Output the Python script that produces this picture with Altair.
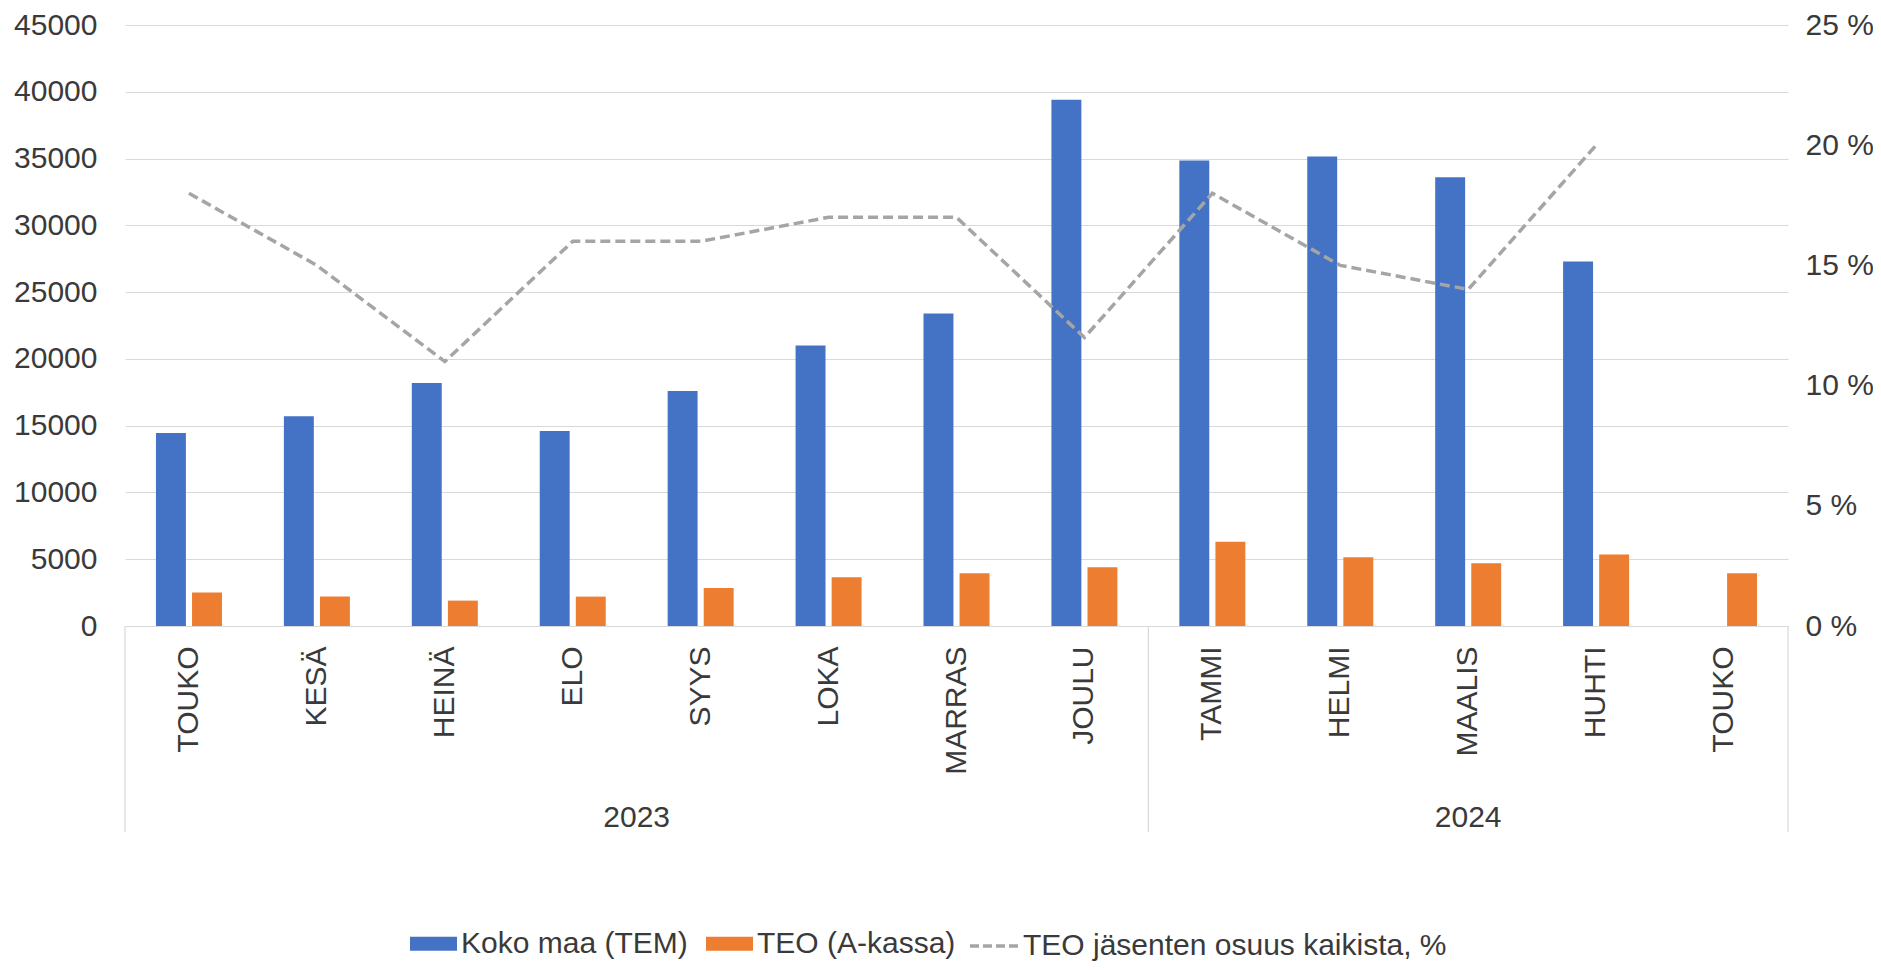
import altair as alt
import pandas as pd

# ---- data ----
months = ["TOUKO", "KESÄ", "HEINÄ", "ELO", "SYYS", "LOKA", "MARRAS", "JOULU",
          "TAMMI", "HELMI", "MAALIS", "HUHTI", "TOUKO"]
month_year = [2023, 2023, 2023, 2023, 2023, 2023, 2023, 2023,
              2024, 2024, 2024, 2024, 2024]
koko_maa = [14450, 15700, 18200, 14600, 17600, 21000, 23400, 39400,
            34850, 35150, 33600, 27300, None]
teo_akassa = [2500, 2200, 1900, 2200, 2850, 3650, 3950, 4400,
              6300, 5150, 4700, 5350, 3950]
teo_share = [18, 15, 11, 16, 16, 17, 17, 12, 18, 15, 14, 20, None]

series_names = ["Koko maa (TEM)", "TEO (A-kassa)"]
series_colors = ["#4472C4", "#ED7D31"]
line_name = "TEO jäsenten osuus kaikista, %"
line_color = "#A5A5A5"

years = ["2023", "2024"]
year_start = [0, 8]
year_count = [8, 5]
year_bounds = [0, 8, 13]

left_ticks = [0, 5000, 10000, 15000, 20000, 25000, 30000, 35000, 40000, 45000]
right_ticks = [0, 5, 10, 15, 20, 25]

# ---- tables ----
keys = [f"{i:02d} {m}" for i, m in enumerate(months)]
bars_df = pd.DataFrame(
    [{"key": k, "series": series_names[0], "value": v} for k, v in zip(keys, koko_maa)]
    + [{"key": k, "series": series_names[1], "value": v} for k, v in zip(keys, teo_akassa)]
)
line_df = pd.DataFrame({"key": keys, "share": teo_share, "name": line_name})
year_df = pd.DataFrame({"year": years, "start": year_start, "count": year_count})
bound_df = pd.DataFrame({"b": year_bounds})

W, H = 1663, 601
TOP = 17
FONT = "Liberation Sans"
TXT = "#3a3a3a"
FS = 30
n = len(keys)
LEG_Y = 895

x_band = alt.Scale(domain=keys, paddingInner=0.484, paddingOuter=0.242)

bars = alt.Chart(bars_df).mark_bar().encode(
    x=alt.X("key:N", scale=x_band, sort=None,
            axis=alt.Axis(title=None, labelAngle=270, labelExpr="substring(datum.value, 3)",
                          ticks=False, grid=False, domain=True, domainColor="#d9d9d9",
                          labelPadding=20, labelFontSize=FS)),
    xOffset=alt.XOffset("series:N", sort=series_names,
                        scale=alt.Scale(domain=series_names, paddingInner=0.17, paddingOuter=0)),
    y=alt.Y("value:Q", scale=alt.Scale(domain=[0, 45000], nice=False),
            axis=alt.Axis(title=None, values=left_ticks, format="d", orient="left",
                          ticks=False, domain=False, grid=True, gridColor="#d9d9d9",
                          labelPadding=28, labelFontSize=FS,
                          labelFlush=False, labelOverlap=False)),
    color=alt.Color("series:N", scale=alt.Scale(domain=series_names, range=series_colors),
                    legend=alt.Legend(title=None, orient="none", direction="horizontal",
                                      legendX=285, legendY=LEG_Y, padding=0,
                                      symbolType="M-1,-0.3H1V0.3H-1Z", symbolSize=2209,
                                      symbolStrokeWidth=0, labelOffset=4, columnPadding=18,
                                      labelFontSize=FS, labelFont=FONT, labelColor=TXT,
                                      labelLimit=600)),
)

line = alt.Chart(line_df).mark_line(strokeDash=[10, 5], strokeWidth=3.5).encode(
    x=alt.X("key:N", sort=None, scale=alt.Scale(domain=keys, type="point", padding=0.5), axis=None),
    y=alt.Y("share:Q", scale=alt.Scale(domain=[0, 25], nice=False),
            axis=alt.Axis(title=None, values=right_ticks, orient="right", ticks=False, domain=False,
                          grid=False, labelPadding=17, labelFontSize=FS,
                          labelExpr="datum.value + ' %'", labelFlush=False, labelOverlap=False)),
    color=alt.Color("name:N", scale=alt.Scale(domain=[line_name], range=[line_color]),
                    legend=alt.Legend(title=None, orient="none", direction="horizontal",
                                      legendX=843, legendY=LEG_Y, padding=0,
                                      symbolType="stroke", symbolSize=2304, symbolStrokeWidth=3.5,
                                      symbolDash=[9, 4], labelOffset=3,
                                      labelFontSize=FS, labelFont=FONT, labelColor=TXT,
                                      labelLimit=800)),
)

rules = alt.Chart(bound_df).mark_rule(color="#d9d9d9", strokeWidth=1.2).encode(
    x=alt.X("b:Q", scale=alt.Scale(domain=[0, n], nice=False, zero=False), axis=None),
    y=alt.value(H),
    y2=alt.value(H + 206),
)

year_text = alt.Chart(year_df).transform_calculate(
    mid="datum.start + datum.count / 2"
).mark_text(fontSize=FS, font=FONT, color=TXT, baseline="middle").encode(
    x=alt.X("mid:Q", scale=alt.Scale(domain=[0, n], nice=False, zero=False), axis=None),
    y=alt.value(H + 192),
    text="year:N",
)

chart = alt.layer(bars, line, rules, year_text).resolve_scale(
    x="independent", y="independent", color="independent"
).properties(
    width=W, height=H,
    autosize=alt.AutoSizeParams(type="none"),
    padding={"left": 117, "top": TOP, "right": 85, "bottom": 954 - TOP - H},
    background="white",
).configure_view(stroke=None).configure_axis(
    labelFont=FONT, labelColor=TXT
).configure_legend(labelFont=FONT, labelColor=TXT)

chart.save("out.html", embed_options={"renderer": "svg", "actions": False})
